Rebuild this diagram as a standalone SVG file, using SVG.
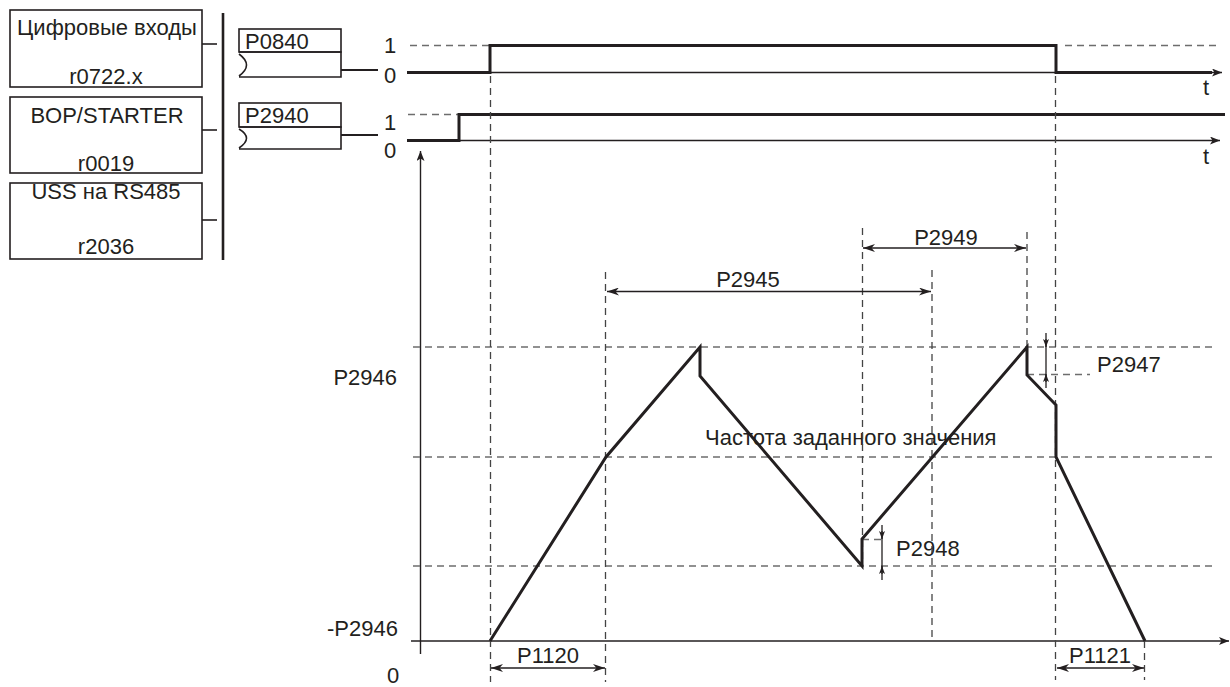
<svg xmlns="http://www.w3.org/2000/svg" width="1230" height="687" viewBox="0 0 1230 687">
<style>
text{font-family:"Liberation Sans",Arial,sans-serif;font-size:22px;fill:#231f20}
.c{text-anchor:middle}
.r{text-anchor:end}
.box{fill:none;stroke:#231f20;stroke-width:1.6}
.thin{fill:none;stroke:#231f20;stroke-width:1.4}
.thick{fill:none;stroke:#231f20;stroke-width:3;stroke-linejoin:miter}
.dash{fill:none;stroke:#6d6d6d;stroke-width:1.4;stroke-dasharray:7 5}
.vd{fill:none;stroke:#444;stroke-width:1.3;stroke-dasharray:7 5}
.dim{fill:none;stroke:#231f20;stroke-width:1.3}
</style>
<defs>
<marker id="ah" viewBox="0 0 12 8" refX="12" refY="4" markerWidth="12" markerHeight="8" markerUnits="userSpaceOnUse" orient="auto-start-reverse">
<path d="M0,0 L12,4 L0,8 L3.5,4 z" fill="#231f20"/>
</marker>
<marker id="as" viewBox="0 0 8 6" refX="8" refY="3" markerWidth="8" markerHeight="6" markerUnits="userSpaceOnUse" orient="auto-start-reverse">
<path d="M0,0 L8,3 L0,6 L2,3 z" fill="#231f20"/>
</marker>
<marker id="ax" viewBox="0 0 10 8" refX="10" refY="4" markerWidth="10" markerHeight="8" markerUnits="userSpaceOnUse" orient="auto">
<path d="M0,0 L10,4 L0,8 L2.5,4 z" fill="#231f20"/>
</marker>
</defs>

<g id="src-digital">
<rect class="box" x="10" y="10" width="192" height="77"/>
<text class="c" x="107" y="35">Цифровые входы</text>
<text class="c" x="106" y="84">r0722.x</text>
</g>
<g id="src-bop">
<rect class="box" x="10" y="97" width="192" height="76"/>
<text class="c" x="107" y="123">BOP/STARTER</text>
<text class="c" x="106" y="171">r0019</text>
</g>
<g id="src-uss">
<rect class="box" x="10" y="183" width="192" height="76"/>
<text class="c" x="106" y="199">USS на RS485</text>
<text class="c" x="106" y="254">r2036</text>
</g>
<g id="bus">
<line x1="223" y1="13" x2="223" y2="260" stroke="#231f20" stroke-width="2.6"/>
</g>
<g id="p0840">
<rect class="box" x="239" y="29" width="102" height="23"/>
<path class="box" d="M239,52 H341 V77 H239 M239,54 Q254,65 239,76"/>
<text x="245" y="49">P0840</text>
</g>
<g id="p2940">
<rect class="box" x="239" y="103" width="102" height="24"/>
<path class="box" d="M239,127 H341 V149 H239 M239,129 Q254,138 239,148"/>
<text x="245" y="123">P2940</text>
</g>

<g id="labels">
<text x="384" y="53">1</text>
<text x="384" y="83">0</text>
<text x="384" y="130">1</text>
<text x="384" y="158">0</text>
<text x="1203" y="95">t</text>
<text x="1203" y="164">t</text>
<text class="r" x="397" y="385">P2946</text>
<text class="r" x="398" y="636">-P2946</text>
<text x="387" y="683">0</text>
<text x="705" y="445">Частота заданного значения</text>
<text class="c" x="748" y="287">P2945</text>
<text class="c" x="946" y="245">P2949</text>
<text x="1097" y="372">P2947</text>
<text x="896" y="556">P2948</text>
<text class="c" x="548" y="663">P1120</text>
<text class="c" x="1100" y="663">P1121</text>
</g>

<g id="connectors">
<line class="box" x1="202" y1="44" x2="217" y2="44"/>
<line class="box" x1="202" y1="130" x2="217" y2="130"/>
<line class="box" x1="202" y1="220" x2="217" y2="220"/>
<line x1="341" y1="70" x2="378" y2="70" stroke="#231f20" stroke-width="2.2"/>
<line x1="341" y1="135" x2="378" y2="135" stroke="#231f20" stroke-width="2.2"/>

<line class="dash" x1="410" y1="45.5" x2="490" y2="45.5"/>
<line class="dash" x1="1065" y1="45.5" x2="1218" y2="45.5"/>
<line class="thin" x1="490" y1="72.5" x2="1222" y2="72.5" marker-end="url(#ax)"/>
<polyline class="thick" points="407,72.5 490,72.5 490,45.5 1056,45.5 1056,72.5 1212,72.5"/>

<line class="dash" x1="408" y1="114.5" x2="459" y2="114.5"/>
<line class="thin" x1="459" y1="140.5" x2="1220" y2="140.5" marker-end="url(#ax)"/>
<polyline class="thick" points="407,140.5 459,140.5 459,114.5 1225,114.5"/>

<line class="thin" x1="420.5" y1="654" x2="420.5" y2="151" marker-end="url(#ax)"/>
<line class="thin" x1="411" y1="641" x2="1229" y2="641" marker-end="url(#ax)"/>

<line class="dash" x1="413" y1="347" x2="1217" y2="347"/>
<line class="dash" x1="413" y1="457" x2="1217" y2="457"/>
<line class="dash" x1="413" y1="566" x2="1217" y2="566"/>
<line class="dash" x1="1027" y1="374.5" x2="1090" y2="374.5"/>
<line class="dash" x1="862" y1="539.5" x2="884" y2="539.5"/>

<line class="vd" x1="490.5" y1="76" x2="490.5" y2="682"/>
<line class="vd" x1="605.5" y1="272" x2="605.5" y2="682"/>
<line class="vd" x1="862.5" y1="228" x2="862.5" y2="566"/>
<line class="vd" x1="932" y1="270" x2="932" y2="641"/>
<line class="vd" x1="1027" y1="232" x2="1027" y2="347"/>
<line class="vd" x1="1055.5" y1="76" x2="1055.5" y2="680"/>
<line class="vd" x1="1144.5" y1="641" x2="1144.5" y2="680"/>

<line class="dim" x1="607" y1="291.5" x2="931" y2="291.5" marker-start="url(#ah)" marker-end="url(#ah)"/>
<line class="dim" x1="863" y1="248" x2="1026" y2="248" marker-start="url(#ah)" marker-end="url(#ah)"/>
<line class="dim" x1="491" y1="668" x2="605" y2="668" marker-start="url(#ah)" marker-end="url(#ah)"/>
<line class="dim" x1="1057" y1="668" x2="1144" y2="668" marker-start="url(#ah)" marker-end="url(#ah)"/>
<line class="dim" x1="1046" y1="333" x2="1046" y2="388"/>
<line class="dim" x1="1046" y1="339" x2="1046" y2="347" marker-end="url(#as)"/>
<line class="dim" x1="1046" y1="382" x2="1046" y2="374" marker-end="url(#as)"/>
<line class="dim" x1="882" y1="525" x2="882" y2="580"/>
<line class="dim" x1="882" y1="531" x2="882" y2="539" marker-end="url(#as)"/>
<line class="dim" x1="882" y1="574" x2="882" y2="566" marker-end="url(#as)"/>

<polyline class="thick" points="490,641 606,457 700,347 700,376 862,566 862,539 1027,347 1027,375 1056,405 1056,457 1145,641"/>
</g>
</svg>
